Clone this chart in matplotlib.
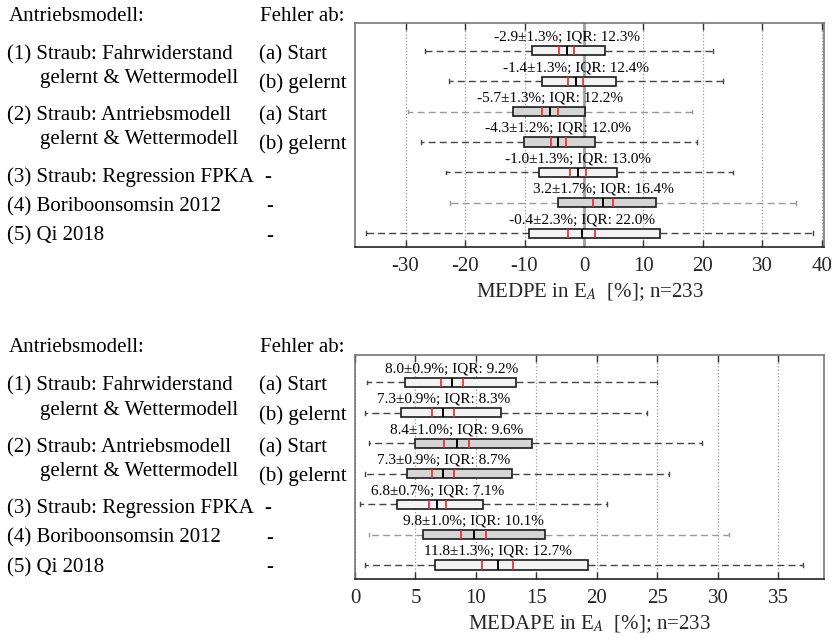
import matplotlib
matplotlib.use("Agg")
import matplotlib.pyplot as plt
from matplotlib.transforms import blended_transform_factory

plt.rcParams['font.family'] = ['Liberation Serif', 'DejaVu Serif']
plt.rcParams['mathtext.fontset'] = 'stix'

# Modelle / Fehler-Startpunkt (gleich fuer beide Diagramme)
model_labels = ["(1) Straub: Fahrwiderstand", "gelernt & Wettermodell",
                "(2) Straub: Antriebsmodell", "gelernt & Wettermodell",
                "(3) Straub: Regression FPKA", "(4) Boriboonsomsin 2012", "(5) Qi 2018"]
error_labels = ["(a) Start", "(b) gelernt", "(a) Start", "(b) gelernt", "-", "-", "-"]

# MEDPE (oben)
medpe_med = [-2.9, -1.4, -5.7, -4.3, -1.0, 3.2, -0.4]
medpe_ci = [1.3, 1.3, 1.3, 1.2, 1.3, 1.7, 2.3]
medpe_iqr = [12.3, 12.4, 12.2, 12.0, 13.0, 16.4, 22.0]
medpe_q1 = [-8.7, -7.0, -12.0, -10.1, -7.5, -4.3, -9.2]
medpe_wlo = [-26.7, -22.7, -29.6, -27.4, -23.2, -22.6, -36.7]
medpe_whi = [21.7, 23.4, 18.2, 19.0, 25.0, 35.6, 38.5]
medpe_ticks = [-30, -20, -10, 0, 10, 20, 30, 40]

# MEDAPE (unten)
medape_med = [8.0, 7.3, 8.4, 7.3, 6.8, 9.8, 11.8]
medape_ci = [0.9, 0.9, 1.0, 0.9, 0.7, 1.0, 1.3]
medape_iqr = [9.2, 8.3, 9.6, 8.7, 7.1, 10.1, 12.7]
medape_q1 = [4.1, 3.8, 5.0, 4.3, 3.5, 5.6, 6.6]
medape_wlo = [1.0, 0.8, 1.2, 0.8, 0.45, 1.2, 0.85]
medape_whi = [25.0, 24.1, 28.7, 26.0, 20.8, 30.9, 37.0]
medape_ticks = [0, 5, 10, 15, 20, 25, 30, 35]

face_colors = ['#f3f3f3', '#f3f3f3', '#d5d5d5', '#d5d5d5', '#f3f3f3', '#d5d5d5', '#f3f3f3']
positions = list(range(1, 8))

fig = plt.figure(figsize=(8.38, 6.4), dpi=100)


def draw_panel(ax, med, ci, iqr, q1, wlo, whi, ticks, xlim, xlabel, whisker_colors, zero_line):
    stats = []
    for i in range(len(med)):
        stats.append(dict(med=med[i], q1=q1[i], q3=q1[i] + iqr[i],
                          whislo=wlo[i], whishi=whi[i], fliers=[]))
    parts = ax.bxp(stats, positions=positions, widths=0.3, orientation='horizontal',
                   patch_artist=True, showfliers=False, capwidths=0.12,
                   boxprops=dict(edgecolor='#1a1a1a', linewidth=1.2),
                   medianprops=dict(color='black', linewidth=1.4),
                   whiskerprops=dict(color='#444444', linewidth=1.0, linestyle=(0, (5, 3))),
                   capprops=dict(color='#444444', linewidth=1.0))
    for box, fc in zip(parts['boxes'], face_colors):
        box.set_facecolor(fc)
        box.set_zorder(3)
    for i, wc in enumerate(whisker_colors):
        for line in parts['whiskers'][2 * i:2 * i + 2] + parts['caps'][2 * i:2 * i + 2]:
            line.set_color(wc)
    for line in parts['medians']:
        line.set_zorder(5)

    # Konfidenzbereich des Medians als rote Linien, Kennwerte darueber
    for i, p in enumerate(positions):
        m, c = med[i], ci[i]
        ax.vlines([m - c, m + c], p - 0.15, p + 0.15, colors='#e8262a', linewidth=1.2, zorder=4)
        ax.text(m, p - 0.33, f"{m:.1f}\u00b1{c:.1f}%; IQR: {iqr[i]:.1f}%",
                ha='center', va='baseline', fontsize=11, zorder=6)

    if zero_line:
        ax.axvline(0, color='#a0a0a0', linewidth=2, zorder=1)

    ax.set_xlim(*xlim)
    ax.set_ylim(7.46, 0.1)
    ax.set_xticks(ticks)
    ax.set_xticklabels([str(t) for t in ticks])
    ax.set_yticks([])
    ax.grid(axis='x', linestyle=':', color='#999999', linewidth=0.9)
    ax.set_axisbelow(True)
    ax.tick_params(axis='x', direction='in', top=True, length=5, width=1, labelsize=15, pad=7,
                   color='#333333', labelcolor='#262626')
    for side in ['top', 'left', 'right']:
        ax.spines[side].set_color('#777777')
        ax.spines[side].set_linewidth(1.2)
    ax.spines['bottom'].set_color('#222222')
    ax.spines['bottom'].set_linewidth(1.2)
    ax.set_xlabel(xlabel, fontsize=15, labelpad=4, color='#262626')

    # Beschriftung links neben dem Diagramm
    tr = blended_transform_factory(fig.transFigure, ax.transData)
    ax.text(9 / 838, 0.01, "Antriebsmodell:", transform=tr, fontsize=15, va='baseline')
    ax.text(260 / 838, 0.01, "Fehler ab:", transform=tr, fontsize=15, va='baseline')
    model_y = [1.28, 2.06, 3.3, 4.08, 5.3, 6.27, 7.24]
    model_x = [7, 40, 7, 40, 7, 7, 7]
    for x, y, s in zip(model_x, model_y, model_labels):
        ax.text(x / 838, y, s, transform=tr, fontsize=15, va='baseline')
    error_y = [1.28, 2.23, 3.3, 4.24, 5.3, 6.27, 7.24]
    error_x = [259, 259, 259, 259, 264, 266, 266]
    for x, y, s in zip(error_x, error_y, error_labels):
        ax.text(x / 838, y, s, transform=tr, fontsize=15, va='baseline')


ax1 = fig.add_axes([0.4236, 0.6136, 0.5601, 0.35])
draw_panel(ax1, medpe_med, medpe_ci, medpe_iqr, medpe_q1, medpe_wlo, medpe_whi,
           medpe_ticks, (-38.5, 40.4), "MEDPE in E$_{A}$  [%]; n=233",
           ['#444444', '#444444', '#999999', '#444444', '#444444', '#999999', '#444444'], True)

ax2 = fig.add_axes([0.4236, 0.0953, 0.5601, 0.35])
draw_panel(ax2, medape_med, medape_ci, medape_iqr, medape_q1, medape_wlo, medape_whi,
           medape_ticks, (0, 38.8), "MEDAPE in E$_{A}$  [%]; n=233",
           ['#444444', '#444444', '#444444', '#444444', '#444444', '#999999', '#444444'], False)

fig.savefig("out.png", dpi=100)
